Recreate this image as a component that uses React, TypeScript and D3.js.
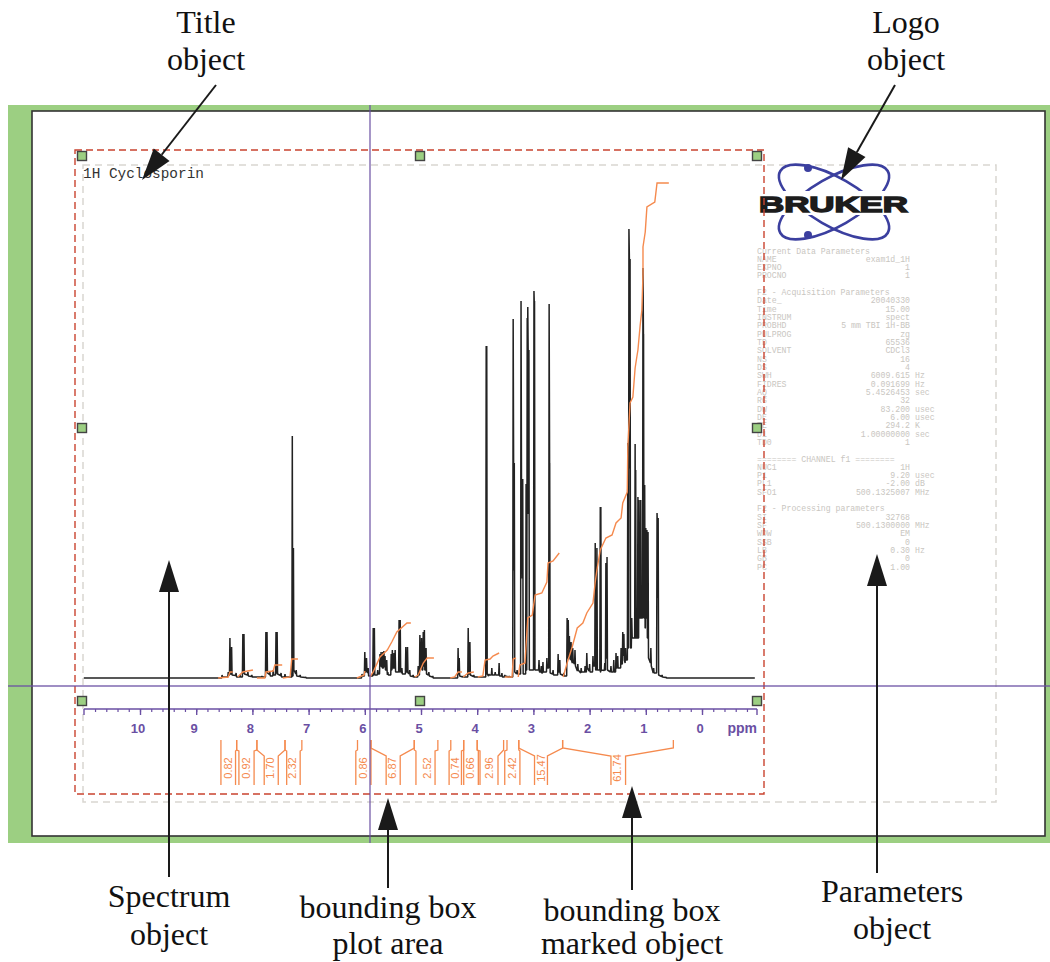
import React, { useEffect, useRef } from "react";
import * as d3 from "d3";

// peaks are [ppm, height, foot], the trace climbs to height then drops to foot
const aromaticPeaks = [
  [8.54, 3, 1], [8.43, 6, 3], [8.40, 40, 4], [8.37, 31, 3], [8.29, 5, 1], [8.22, 3, 1],
  [8.17, 44, 5], [8.15, 44, 4], [8.08, 6, 2], [8.01, 3, 1], [7.83, 2, 1], [7.76, 46, 6],
  [7.74, 46, 5], [7.69, 7, 2], [7.63, 8, 3], [7.58, 46, 5], [7.56, 46, 4], [7.49, 5, 1],
  [7.42, 4, 1], [7.29, 242, 2], [7.27, 130, 8], [7.22, 8, 2], [7.15, 3, 1], [7.05, 1, 0],
];
const amidePeaks = [
  [6.05, 4, 2], [6.00, 26, 6], [5.97, 20, 8], [5.94, 10, 2], [5.85, 50, 3], [5.83, 50, 3],
  [5.77, 8, 4], [5.73, 24, 12], [5.71, 26, 12], [5.69, 22, 10], [5.68, 26, 10], [5.66, 27, 12],
  [5.64, 22, 8], [5.61, 18, 6], [5.59, 6, 3], [5.53, 24, 8], [5.51, 28, 10], [5.48, 25, 10],
  [5.46, 28, 6], [5.39, 58, 6], [5.37, 58, 8], [5.34, 10, 4], [5.27, 31, 6], [5.24, 31, 5],
  [5.20, 8, 2], [5.14, 3, 1], [5.05, 12, 3], [5.02, 43, 10], [4.99, 40, 8], [4.96, 46, 12],
  [4.94, 48, 8], [4.91, 30, 4], [4.86, 6, 2], [4.79, 2, 0],
];
const alphaPeaks = [
  [4.34, 30, 4], [4.32, 20, 2], [4.25, 2, 1], [4.16, 50, 4], [4.13, 36, 3], [4.06, 3, 1],
  [3.84, 332, 300], [3.83, 332, 4], [3.79, 4, 3], [3.74, 10, 3], [3.68, 6, 3], [3.61, 15, 2],
  [3.56, 5, 1], [3.51, 3, 2], [3.43, 2, 1], [3.36, 359, 215], [3.34, 215, 6], [3.29, 8, 4],
  [3.22, 377, 199], [3.19, 199, 4], [3.13, 194, 8], [3.11, 360, 200], [3.10, 371, 320], [3.08, 328, 8],
  [2.99, 387, 370], [2.98, 377, 8], [2.90, 18, 6], [2.86, 12, 5], [2.83, 16, 6], [2.76, 20, 10],
  [2.72, 374, 215], [2.71, 215, 5], [2.65, 8, 3], [2.56, 24, 6], [2.53, 18, 4], [2.46, 5, 2],
];
const aliphaticPeaks = [
  [2.40, 60, 20], [2.38, 58, 25], [2.36, 42, 20], [2.33, 36, 18], [2.30, 30, 16], [2.26, 28, 12],
  [2.21, 14, 8], [2.15, 10, 6], [2.08, 12, 6], [2.05, 25, 10], [2.00, 14, 6], [1.94, 22, 12],
  [1.90, 135, 8], [1.87, 130, 8], [1.81, 171, 6], [1.80, 171, 8], [1.73, 15, 8], [1.71, 115, 20],
  [1.69, 121, 8], [1.62, 12, 6], [1.57, 18, 6], [1.53, 25, 10], [1.50, 22, 10], [1.44, 30, 14],
  [1.41, 46, 30], [1.39, 44, 18], [1.36, 30, 18], [1.32, 235, 30], [1.30, 449, 419], [1.28, 419, 30],
  [1.25, 60, 40], [1.19, 234, 40], [1.18, 208, 40], [1.14, 181, 40], [1.12, 178, 60], [1.10, 120, 60],
  [1.09, 178, 60], [1.05, 410, 344], [1.04, 344, 60], [1.02, 193, 50], [1.00, 150, 60], [0.98, 148, 40],
  [0.96, 146, 20], [0.91, 30, 12], [0.86, 10, 5], [0.80, 165, 150], [0.78, 160, 3], [0.71, 3, 1], [0.64, 1, 0],
];
const traceStart = 11;
const traceEnd = -0.94;

// running integrals, [ppm, integral height]
const integralCurves = [
  [[8.61, 0], [8.43, 1], [8.40, 6], [8.35, 6]],
  [[8.26, 1], [8.17, 6], [7.99, 8]],
  [[7.92, 0], [7.78, 0], [7.76, 6], [7.63, 7], [7.60, 13], [7.47, 13]],
  [[7.46, 0], [7.33, 1], [7.30, 19], [7.19, 19]],
  [[6.14, 0], [6.01, 3], [6.00, 7]],
  [[5.91, 1], [5.85, 6], [5.73, 21], [5.60, 28], [5.52, 36], [5.43, 46], [5.25, 55], [5.18, 55]],
  [[5.11, 1], [5.05, 3], [4.96, 15], [4.89, 20], [4.77, 20]],
  [[4.48, 0], [4.40, 1], [4.34, 6], [4.27, 6]],
  [[4.25, 1], [4.16, 5], [4.06, 6]],
  [[3.99, 1], [3.90, 2], [3.86, 18], [3.77, 19], [3.72, 22], [3.61, 25]],
  [[3.51, 1], [3.38, 1], [3.36, 19], [3.31, 20]],
  [[3.27, 1], [3.24, 13], [3.15, 15], [3.10, 60], [3.02, 63], [2.97, 83], [2.85, 85], [2.76, 96], [2.74, 115], [2.65, 117], [2.54, 125]],
  [[2.47, 1], [2.40, 15], [2.31, 31], [2.22, 50], [2.12, 55], [2.05, 65], [1.94, 75], [1.90, 96], [1.87, 108], [1.81, 128], [1.71, 140], [1.60, 143], [1.53, 155], [1.44, 160], [1.41, 175], [1.33, 186], [1.32, 231], [1.28, 275], [1.23, 281], [1.19, 310], [1.16, 321], [1.14, 328], [1.10, 353], [1.07, 368], [1.05, 404], [1.05, 431], [1.01, 446], [0.98, 471], [0.84, 476], [0.80, 495], [0.59, 495]],
];

// integral labels with their brackets: tick left, inner left, tick right, inner right (ppm)
const integralValues = ["0.82", "0.92", "1.70", "2.32", "0.86", "6.87", "2.52", "0.74", "0.66", "2.96", "2.42", "15.47", "61.74"];
const integralLabelPpm = [8.44, 8.11, 7.69, 7.30, 6.04, 5.51, 4.90, 4.40, 4.13, 3.79, 3.38, 2.87, 1.51];
const integralBounds = [
  [8.56, 8.56, 8.28, 8.30], [8.28, 8.24, 7.92, 7.97], [7.92, 7.79, 7.42, 7.54], [7.42, 7.39, 7.12, 7.15],
  [6.13, 6.16, 5.89, 5.89], [5.89, 5.62, 5.12, 5.37], [5.12, 5.09, 4.70, 4.75], [4.47, 4.50, 4.24, 4.28],
  [4.24, 4.24, 4.00, 3.98], [4.00, 3.95, 3.53, 3.63], [3.47, 3.51, 3.26, 3.24], [3.26, 2.98, 2.48, 2.75],
  [2.48, 1.62, 0.51, 1.36],
];

const majorPpm = [10, 9, 8, 7, 6, 5, 4, 3, 2, 1, 0];
const minorPpm = d3.range(10.8, -1, -0.2).map((d) => +d.toFixed(1));

const paramRows = [
  ["Current Data Parameters", "", ""], ["NAME", "exam1d_1H", ""], ["EXPNO", "1", ""], ["PROCNO", "1", ""], ["", "", ""],
  ["F2 - Acquisition Parameters", "", ""], ["Date_", "20040330", ""], ["Time", "15.00", ""], ["INSTRUM", "spect", ""],
  ["PROBHD", "5 mm TBI 1H-BB", ""], ["PULPROG", "zg", ""], ["TD", "65536", ""], ["SOLVENT", "CDCl3", ""], ["NS", "16", ""],
  ["DS", "4", ""], ["SWH", "6009.615", "Hz"], ["FIDRES", "0.091699", "Hz"], ["AQ", "5.4526453", "sec"], ["RG", "32", ""],
  ["DW", "83.200", "usec"], ["DE", "6.00", "usec"], ["TE", "294.2", "K"], ["D1", "1.00000000", "sec"], ["TD0", "1", ""], ["", "", ""],
  ["======== CHANNEL f1 ========", "", ""], ["NUC1", "1H", ""], ["P1", "9.20", "usec"], ["PL1", "-2.00", "dB"],
  ["SFO1", "500.1325007", "MHz"], ["", "", ""], ["F2 - Processing parameters", "", ""], ["SI", "32768", ""],
  ["SF", "500.1300000", "MHz"], ["WDW", "EM", ""], ["SSB", "0", ""], ["LB", "0.30", "Hz"], ["GB", "0", ""], ["PC", "1.00", ""],
];

const handleX = [82, 420, 757];
const handleY = [156, 428, 701];

const captions = [
  ["Title", 206, 33], ["object", 206, 70], ["Logo", 906, 33], ["object", 906, 70],
  ["Spectrum", 169, 907], ["object", 169, 945], ["bounding box", 388, 918], ["plot area", 388, 954],
  ["bounding box", 632, 921], ["marked object", 632, 954], ["Parameters", 892, 902], ["object", 892, 939],
];

// tail x,y, tip x,y for the call-out arrows
const arrows = [
  [216, 85, 142, 180], [895, 85, 841, 180], [169, 877, 169, 560],
  [388, 888, 388, 798], [632, 890, 632, 786], [877, 873, 877, 554],
];

const GREEN = "#9ccf82";
const PURPLE = "#6a4fa3";
const ORANGE = "#f58a4e";
const RED = "#c9432f";
const DASH_GREY = "#d9d6d1";
const PARAM_GREY = "#c9c6c1";
const BLUE = "#3b3f9f";

const x = d3.scaleLinear().domain([0, 10]).range([702, 140]);
const y = d3.scaleLinear().domain([0, 500]).range([678, 178]);
const axisY = 709;

function buildTrace() {
  const pts: number[][] = [[traceStart, 0]];
  let prevFoot = 0;
  [...aromaticPeaks, ...amidePeaks, ...alphaPeaks, ...aliphaticPeaks].forEach(([p, h, f]) => {
    // stay low until right under the peak so the sticks are upright
    pts.push([p + 0.008, Math.min(prevFoot, h * 0.5)]);
    pts.push([p, h]);
    pts.push([p - 0.008, f]);
    prevFoot = f;
  });
  pts.push([traceEnd, 0]);
  return pts;
}

const line = d3.line<number[]>()
  .x((d) => x(d[0]))
  .y((d) => y(d[1]));

// one bracket of the integral row, ticks come down and fan out to the label rails
function bracketPath(b: number[]) {
  const side = (tick: number, inner: number) => {
    const dx = Math.abs(x(tick) - x(inner));
    const knee = dx > 8 ? 748 : 750;
    const start = dx > 5 ? 756 : 751;
    return d3.line()([[x(tick), 740], [x(tick), knee], [x(inner), start], [x(inner), 785]]);
  };
  return side(b[0], b[1]) + side(b[2], b[3]);
}

function Arrow({ a }: { a: number[] }) {
  const [x0, y0, x1, y1] = a;
  const ang = Math.atan2(y1 - y0, x1 - x0);
  const len = 32;
  const half = 10;
  const bx = x1 - len * Math.cos(ang);
  const by = y1 - len * Math.sin(ang);
  const nx = -Math.sin(ang) * half;
  const ny = Math.cos(ang) * half;
  return (
    <g>
      <line x1={x0} y1={y0} x2={bx} y2={by} stroke="#1a1a1a" strokeWidth={2} />
      <path d={`M${x1},${y1}L${bx + nx},${by + ny}L${bx - nx},${by - ny}Z`} fill="#1a1a1a" />
    </g>
  );
}

export default function App() {
  const axisRef = useRef<SVGGElement>(null);
  const minorRef = useRef<SVGGElement>(null);

  useEffect(() => {
    const major = d3.axisBottom(x).tickValues(majorPpm).tickSize(6).tickPadding(8.8).tickFormat(d3.format("d") as any);
    const g = d3.select(axisRef.current!).call(major as any);
    g.select(".domain").remove();
    g.selectAll("line").attr("stroke", PURPLE).attr("stroke-width", 1.4);
    g.selectAll("text")
      .attr("fill", PURPLE)
      .attr("dx", -2.5)
      .attr("font-size", 13)
      .attr("font-weight", "bold")
      .attr("font-family", "'Liberation Sans', Arial, sans-serif");

    const minor = d3.axisBottom(x).tickValues(minorPpm).tickSize(3).tickSizeOuter(0).tickFormat(() => "");
    const m = d3.select(minorRef.current!).call(minor as any);
    m.select(".domain").remove();
    m.selectAll("line").attr("stroke", PURPLE).attr("stroke-width", 1.2);
  }, []);

  return (
    <svg width={1050} height={962} style={{ position: "absolute", left: 0, top: 0, display: "block", background: "#fff" }}>
      <rect x={8} y={105} width={1042} height={738} fill={GREEN} />
      <rect x={32} y={111} width={1013} height={725} fill="#fff" stroke="#333" strokeWidth={1.6} />

      {/* parameters box and logo */}
      <rect x={83} y={165} width={913} height={637} fill="none" stroke={DASH_GREY} strokeWidth={1.5} strokeDasharray="7 5" />
      <g fill="none" stroke={BLUE} strokeWidth={2.6}>
        <ellipse cx={834} cy={202} rx={62} ry={24} transform="rotate(30 834 202)" />
        <ellipse cx={834} cy={202} rx={62} ry={24} transform="rotate(-30 834 202)" />
      </g>
      <circle cx={808} cy={168} r={4} fill={BLUE} />
      <circle cx={808} cy={235} r={4} fill={BLUE} />
      <rect x={757} y={191} width={154} height={24} fill="#fff" />
      <text x={759} y={212} fontFamily="'Liberation Sans', Arial, sans-serif" fontWeight="bold" fontSize={22} stroke="#1c1c1c" strokeWidth={1.4} fill="#1c1c1c" textLength={149} lengthAdjust="spacingAndGlyphs">BRUKER</text>

      <g fontFamily="'Liberation Mono', monospace" fontSize={8.2} fill={PARAM_GREY}>
        {paramRows.map((r, i) => (
          <g key={i}>
            <text x={757} y={253.5 + i * 8.32}>{r[0]}</text>
            <text x={910} y={253.5 + i * 8.32} textAnchor="end">{r[1]}</text>
            <text x={915} y={253.5 + i * 8.32}>{r[2]}</text>
          </g>
        ))}
      </g>

      {/* spectrum */}
      <path d={line(buildTrace()) ?? ""} fill="none" stroke="#222" strokeWidth={1.5} strokeLinejoin="bevel" />
      <g fill="none" stroke={ORANGE} strokeWidth={1.4}>
        {integralCurves.map((c, i) => <path key={i} d={line(c) ?? ""} />)}
      </g>
      <text x={83} y={178} fontFamily="'Liberation Mono', monospace" fontSize={14.4} fill="#333">1H Cyclosporin</text>

      {/* ppm axis */}
      <line x1={84} x2={757} y1={axisY} y2={axisY} stroke={PURPLE} strokeWidth={1.4} />
      <g ref={minorRef} transform={`translate(0,${axisY})`} />
      <g ref={axisRef} transform={`translate(0,${axisY})`} />
      <line x1={84} x2={84} y1={axisY} y2={axisY + 6} stroke={PURPLE} strokeWidth={1.4} />
      <line x1={757} x2={757} y1={axisY} y2={axisY + 6} stroke={PURPLE} strokeWidth={1.4} />
      <text x={757} y={733} textAnchor="end" fontFamily="'Liberation Sans', Arial, sans-serif" fontWeight="bold" fontSize={14} fill={PURPLE}>ppm</text>

      {/* integral row */}
      <g fill="none" stroke={ORANGE} strokeWidth={1.3}>
        {integralBounds.map((b, i) => <path key={i} d={bracketPath(b)} />)}
      </g>
      <g fontFamily="'Liberation Sans', Arial, sans-serif" fontSize={11} fill={ORANGE} textAnchor="middle">
        {integralValues.map((v, i) => (
          <text key={v} transform={`translate(${x(integralLabelPpm[i]) + 4},768) rotate(-90)`}>{v}</text>
        ))}
      </g>

      {/* selection box and handles */}
      <rect x={75} y={150} width={689} height={644} fill="none" stroke={RED} strokeWidth={1.4} strokeDasharray="7 4" />
      <line x1={370} x2={370} y1={105} y2={843} stroke={PURPLE} strokeWidth={1.4} opacity={0.85} />
      <line x1={8} x2={1050} y1={686} y2={686} stroke={PURPLE} strokeWidth={1.4} opacity={0.85} />
      {handleY.map((hy) => handleX.map((hx) => (
        hy === 428 && hx === 420 ? null :
          <rect key={`${hx}-${hy}`} x={hx - 4.5} y={hy - 4.5} width={9} height={9} fill={GREEN} stroke="#444" strokeWidth={1.4} />
      )))}

      {/* call-outs */}
      {arrows.map((a, i) => <Arrow key={i} a={a} />)}
      <g fontFamily="'Liberation Serif', 'Times New Roman', serif" fontSize={32} fill="#111" textAnchor="middle">
        {captions.map((c, i) => <text key={i} x={c[1] as number} y={c[2] as number}>{c[0]}</text>)}
      </g>
    </svg>
  );
}
